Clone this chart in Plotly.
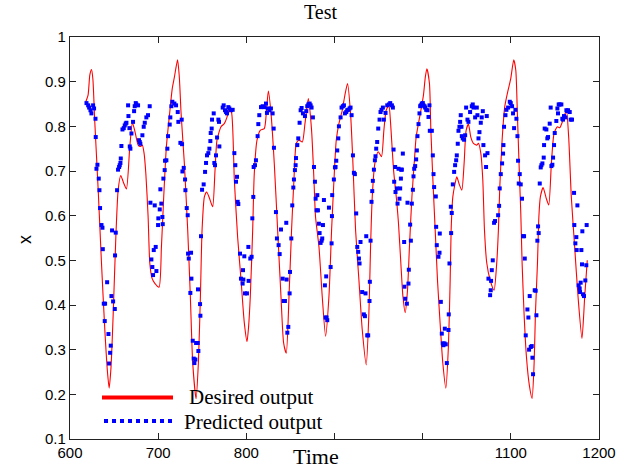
import plotly.graph_objects as go

# Desired output (red curve)
desired_t = [617.9, 620.5, 622.5, 624.4, 626.0, 628.0, 632.0, 635.7, 639.5, 642.5, 644.4, 646.5, 649.0, 652.0,
             654.6, 657.6, 660.5, 664.0, 667.8, 670.8, 673.5, 677.3, 680.0, 682.0, 684.0, 686.0, 688.6, 690.5,
             693.0, 696.0, 701.0, 703.7, 706.3, 709.3, 713.0, 716.0, 718.4, 722.0, 724.0, 726.0, 729.7, 733.5,
             736.5, 739.2, 743.0, 745.6, 747.9, 749.8, 752.4, 755.0, 758.0, 761.8, 764.5, 766.7, 771.3, 775.0,
             778.0, 780.7, 783.3, 786.4, 790.1, 794.0, 797.7, 800.8, 802.5, 804.5, 807.2, 809.0, 812.1, 815.8,
             820.4, 823.0, 825.0, 828.0, 831.7, 835.5, 839.3, 842.3, 845.3, 848.4, 851.3, 854.0, 856.7, 859.7,
             863.5, 866.5, 870.3, 874.0, 876.7, 878.5, 882.4, 886.1, 889.9, 893.7, 896.7, 899.4, 902.0, 905.0,
             908.8, 911.8, 914.8, 918.2, 920.9, 923.9, 927.7, 931.5, 936.0, 939.0, 940.9, 942.8, 945.8, 949.6,
             953.3, 956.0, 958.6, 961.7, 963.5, 967.0, 970.8, 972.6, 975.3, 977.6, 980.2, 982.8, 985.0, 987.8,
             990.4, 992.6, 995.2, 998.0, 1000.9, 1003.0, 1004.8, 1007.7, 1009.3, 1011.6, 1014.2, 1016.8, 1019.8,
             1022.9, 1026.3, 1029.2, 1031.2, 1032.3, 1034.2, 1036.8, 1038.7, 1041.5, 1044.4, 1047.0, 1049.3,
             1051.9, 1054.6, 1057.6, 1061.4, 1063.3, 1066.0, 1068.2, 1070.1, 1072.7, 1076.5, 1081.0, 1084.0,
             1085.9, 1087.5, 1090.1, 1093.1, 1096.9, 1099.9, 1103.3, 1105.6, 1107.4, 1109.3, 1111.3, 1112.8,
             1115.0, 1117.7, 1121.0, 1124.1, 1126.4, 1127.9, 1130.2, 1131.8, 1133.5, 1136.6, 1140.0, 1143.0,
             1146.0, 1149.0, 1152.7, 1155.5, 1159.2, 1163.0, 1165.6, 1168.6, 1172.4, 1176.2, 1180.7, 1183.8,
             1186.7]
desired_x = [0.855, 0.870, 0.915, 0.927, 0.905, 0.814, 0.657, 0.494, 0.344, 0.250, 0.214, 0.260, 0.380, 0.553,
             0.657, 0.690, 0.675, 0.660, 0.754, 0.808, 0.790, 0.758, 0.755, 0.758, 0.740, 0.695, 0.597, 0.494,
             0.460, 0.449, 0.440, 0.530, 0.642, 0.754, 0.829, 0.885, 0.910, 0.949, 0.910, 0.829, 0.717, 0.568,
             0.419, 0.270, 0.190, 0.270, 0.419, 0.568, 0.642, 0.653, 0.640, 0.620, 0.702, 0.769, 0.799, 0.806,
             0.820, 0.840, 0.830, 0.680, 0.553, 0.456, 0.360, 0.318, 0.350, 0.419, 0.568, 0.694, 0.769, 0.791,
             0.795, 0.840, 0.879, 0.829, 0.717, 0.568, 0.419, 0.315, 0.292, 0.419, 0.568, 0.680, 0.762, 0.769,
             0.765, 0.806, 0.862, 0.791, 0.680, 0.597, 0.530, 0.419, 0.330, 0.419, 0.568, 0.680, 0.769, 0.806,
             0.836, 0.870, 0.896, 0.829, 0.717, 0.568, 0.456, 0.344, 0.266, 0.381, 0.530, 0.642, 0.717, 0.743,
             0.732, 0.791, 0.836, 0.847, 0.810, 0.702, 0.627, 0.582, 0.492, 0.419, 0.383, 0.433, 0.530, 0.642,
             0.717, 0.776, 0.806, 0.836, 0.870, 0.910, 0.929, 0.896, 0.791, 0.680, 0.568, 0.456, 0.359,
             0.269, 0.214, 0.307, 0.456, 0.568, 0.642, 0.672, 0.687, 0.670, 0.657, 0.717, 0.791,
             0.805, 0.776, 0.762, 0.758, 0.762, 0.739, 0.680, 0.568, 0.494, 0.456, 0.433, 0.494,
             0.568, 0.665, 0.769, 0.844, 0.881, 0.907, 0.949, 0.926, 0.829, 0.717, 0.605, 0.493,
             0.381, 0.284, 0.220, 0.191, 0.269, 0.381, 0.493, 0.597, 0.642, 0.663, 0.640, 0.624,
             0.717, 0.784, 0.799, 0.797, 0.814, 0.836, 0.776, 0.642, 0.530, 0.419, 0.325, 0.419,
             0.500]

# Predicted output (blue dots)
pred_t = [618.7, 620.6, 621.7, 623.2, 624.3, 626.2, 627.3, 628.9, 629.2, 630.0, 631.1, 632.6, 633.4, 634.1,
          635.7, 636.8, 637.2, 638.3, 639.4, 639.8, 642.1, 643.6, 644.3, 645.5, 646.2, 647.0, 647.7, 648.9,
          650.8, 651.1, 651.9, 653.4, 654.5, 655.7, 656.4, 657.2, 657.6, 658.3, 659.5, 661.0, 662.1, 663.2,
          664.0, 665.9, 666.3, 667.4, 667.8, 668.5, 669.7, 671.5, 672.7, 673.4, 674.6, 675.3, 677.2, 678.3,
          679.1, 679.8, 682.1, 683.6, 684.8, 686.6, 688.5, 690.4, 691.2, 692.3, 693.4, 694.2, 695.0, 696.1,
          697.2, 698.0, 699.9, 700.2, 701.8, 702.5, 703.6, 704.8, 705.2, 705.9, 707.4, 707.8, 709.3, 710.4,
          711.2, 713.1, 713.8, 715.0, 716.1,
          718.4, 720.3, 722.2, 722.9, 725.2, 726.7, 727.1, 727.5, 729.0, 730.5, 730.9, 732.4, 733.5, 733.9,
          734.7, 736.5, 737.3, 737.7, 739.2, 740.3, 741.1, 742.2, 743.0, 744.9, 745.2, 745.6, 747.5, 747.9,
          748.6, 749.8, 751.6, 753.2, 754.3, 755.4, 756.9, 758.1, 759.2, 759.6, 760.7, 761.1, 763.0, 763.7,
          764.5, 765.6, 766.8, 768.3, 769.0, 769.4, 773.2, 774.3, 775.8, 777.0, 778.1, 779.6, 780.7, 782.6,
          784.5, 786.4, 787.5, 788.3, 789.4, 790.2, 790.9, 792.8, 793.9, 795.8, 796.2, 796.6, 797.7, 798.5,
          800.7, 802.3, 802.6, 804.5, 806.0, 806.8, 807.9, 808.3, 809.8, 810.9, 812.8, 813.6, 814.7, 816.6,
          818.5, 820.4, 822.3, 823.4, 824.2, 826.1, 827.9, 829.8, 831.0, 831.3, 833.6, 834.7, 836.6, 837.8,
          839.3, 841.2, 842.3,
          843.8, 845.3, 845.7, 846.5, 847.6, 849.1, 849.5, 851.0, 852.1, 853.3, 854.0, 855.1, 855.9, 856.3,
          857.8, 858.9, 860.4, 861.6, 862.7, 864.2, 866.5, 868.0, 869.1, 870.3, 871.8, 872.9, 874.0, 875.5,
          876.7, 877.8, 878.6, 879.7, 880.5, 881.2, 882.3, 883.1, 884.2, 885.4, 886.1, 886.9, 888.0, 889.1,
          889.9, 890.6, 891.0, 891.8, 893.7, 895.6, 896.7, 897.1, 897.4, 899.3, 900.5, 901.2, 902.0, 903.1,
          904.3, 905.0, 906.9, 908.0, 909.5, 910.7, 911.8, 913.3, 914.4, 915.6, 917.1, 918.2, 919.4, 920.9,
          922.0, 923.1, 924.6, 925.8, 926.9, 927.7, 928.4, 929.5, 931.4, 933.3, 934.5, 935.2, 936.0, 937.1,
          938.2, 939.7, 940.1, 940.9, 942.0, 942.8, 943.5, 944.7, 945.8, 946.5, 947.3, 948.4, 949.6, 951.1,
          952.2, 953.3, 954.9, 956.0, 957.9, 959.8, 961.7,
          963.2, 965.1, 966.2, 967.0, 967.7, 968.8, 969.2, 970.7, 971.5, 972.6, 973.7, 974.5, 975.3, 975.6,
          976.4, 977.5, 979.0, 979.4, 980.2, 982.1, 982.8, 983.9, 984.3, 985.8, 986.6, 987.7, 988.9, 989.6,
          990.4, 991.5, 992.6, 993.4, 994.1, 995.3, 996.4, 997.2, 997.9, 999.0, 1000.2, 1000.9, 1002.1,
          1002.8, 1004.0, 1005.5, 1006.6, 1007.7, 1008.1, 1010.4, 1011.5, 1012.3, 1013.0, 1014.9, 1015.3,
          1016.0, 1017.9, 1019.1, 1019.4, 1020.6, 1021.7, 1022.8, 1023.6, 1024.7, 1025.1, 1026.2, 1027.4,
          1029.3, 1029.6, 1030.4, 1031.9, 1032.3, 1033.0, 1034.2, 1035.7, 1036.8, 1038.0, 1038.7, 1039.8,
          1040.6, 1041.7, 1042.5, 1043.2, 1044.0, 1044.4, 1045.5, 1047.0, 1048.2, 1049.3, 1050.8, 1051.9,
          1053.8, 1055.7, 1056.8, 1057.6, 1059.5, 1061.4, 1062.1, 1063.3, 1064.4, 1065.9, 1067.0, 1068.2,
          1068.9, 1070.8, 1071.9, 1072.7, 1073.5, 1074.6, 1076.5, 1077.2, 1077.6, 1078.4, 1079.5, 1081.0,
          1082.1,
          1085.6, 1086.7, 1087.4, 1088.6, 1090.1, 1091.2, 1091.6, 1092.3, 1093.9, 1095.0, 1096.9, 1098.8,
          1099.9, 1101.4, 1102.5, 1103.7, 1105.2, 1106.3, 1107.5, 1108.2, 1109.0, 1110.1, 1111.2, 1112.7,
          1113.9, 1115.0, 1115.8, 1116.9, 1118.8, 1119.9, 1120.7, 1121.4, 1122.6, 1123.7, 1124.5, 1125.2,
          1127.1, 1128.2, 1129.0, 1130.1, 1130.9, 1131.6, 1132.8, 1133.9, 1134.7, 1135.8, 1137.3, 1137.7,
          1138.4, 1140.3, 1141.4, 1142.2, 1144.1, 1145.2, 1146.0, 1147.1, 1147.9, 1149.0, 1149.8, 1151.6,
          1152.8, 1153.5, 1154.3, 1155.4, 1157.3, 1158.4, 1159.2, 1160.3, 1161.9, 1163.0, 1164.1, 1164.9,
          1166.8, 1167.9, 1169.4, 1171.7, 1172.0, 1173.2, 1174.3, 1174.7, 1175.5, 1176.9, 1178.1, 1178.5,
          1179.2, 1180.0, 1180.7, 1181.1, 1181.9, 1183.0, 1184.5, 1185.6, 1186.0]
pred_x = [0.852, 0.847, 0.842, 0.836, 0.829, 0.847, 0.840, 0.817, 0.776, 0.705, 0.714, 0.683, 0.657, 0.617,
          0.579, 0.573, 0.525, 0.403, 0.364, 0.403, 0.451, 0.335, 0.269, 0.293, 0.309, 0.420, 0.567, 0.408,
          0.391, 0.511, 0.562, 0.657, 0.703, 0.709, 0.713, 0.718, 0.728, 0.756, 0.793, 0.796, 0.802, 0.806,
          0.808, 0.847, 0.823, 0.796, 0.755, 0.750, 0.784, 0.810, 0.834, 0.845, 0.852, 0.849, 0.847, 0.769,
          0.765, 0.761, 0.780, 0.799, 0.808, 0.820, 0.825, 0.845, 0.629, 0.502, 0.485, 0.467, 0.523, 0.623,
          0.530, 0.476, 0.579, 0.594, 0.614, 0.659, 0.627, 0.597, 0.581, 0.683, 0.702, 0.723, 0.724, 0.750,
          0.778, 0.804, 0.820, 0.845, 0.855,
          0.851, 0.847, 0.832, 0.810, 0.763, 0.815, 0.760, 0.699, 0.707, 0.681, 0.657, 0.617, 0.601, 0.515,
          0.504, 0.427, 0.517, 0.459, 0.320, 0.280, 0.270, 0.278, 0.315, 0.315, 0.435, 0.297, 0.402, 0.376,
          0.554, 0.658, 0.670, 0.698, 0.718, 0.735, 0.740, 0.750, 0.767, 0.785, 0.795, 0.815, 0.829, 0.718,
          0.713, 0.735, 0.775, 0.815, 0.810, 0.755, 0.842, 0.847, 0.836, 0.832, 0.829, 0.843, 0.840, 0.836,
          0.837, 0.740, 0.713, 0.676, 0.687, 0.631, 0.626, 0.515, 0.459, 0.448, 0.478, 0.457, 0.509, 0.426,
          0.426, 0.530, 0.454, 0.504, 0.508, 0.594, 0.642, 0.709, 0.713, 0.724, 0.778, 0.805, 0.825, 0.843,
          0.845, 0.843, 0.851, 0.830, 0.840, 0.836, 0.840, 0.829, 0.795, 0.752, 0.608, 0.549, 0.534, 0.514,
          0.569, 0.459, 0.409,
          0.409, 0.584, 0.457, 0.338, 0.351, 0.426, 0.474, 0.549, 0.623, 0.663, 0.681, 0.702, 0.713, 0.729,
          0.758, 0.773, 0.808, 0.836, 0.841, 0.829, 0.823, 0.834, 0.845, 0.849, 0.851, 0.847, 0.842, 0.820,
          0.709, 0.676, 0.638, 0.612, 0.646, 0.612, 0.582, 0.561, 0.539, 0.544, 0.549, 0.579, 0.635, 0.444,
          0.372, 0.464, 0.372, 0.366, 0.618, 0.485, 0.538, 0.599, 0.646, 0.681, 0.708, 0.709, 0.723, 0.746,
          0.773, 0.800, 0.820, 0.842, 0.845, 0.847, 0.829, 0.832, 0.836, 0.837, 0.840, 0.842, 0.825, 0.735,
          0.696, 0.693, 0.605, 0.530, 0.519, 0.504, 0.493, 0.541, 0.429, 0.379, 0.375, 0.426, 0.554, 0.332,
          0.332, 0.409, 0.452, 0.544, 0.631, 0.655, 0.678, 0.703, 0.724, 0.733, 0.750, 0.765, 0.795, 0.815,
          0.832, 0.837, 0.842, 0.815, 0.830, 0.847, 0.849,
          0.852, 0.847, 0.842, 0.748, 0.676, 0.709, 0.653, 0.661, 0.627, 0.705, 0.638, 0.661, 0.683, 0.703,
          0.703, 0.739, 0.541, 0.441, 0.414, 0.403, 0.629, 0.448, 0.479, 0.580, 0.544, 0.627, 0.658, 0.688,
          0.705, 0.711, 0.726, 0.746, 0.778, 0.805, 0.829, 0.845, 0.847, 0.851, 0.852, 0.847, 0.845,
          0.842, 0.837, 0.836, 0.821, 0.847, 0.790, 0.790, 0.735, 0.693, 0.664, 0.643, 0.575,
          0.534, 0.508, 0.517, 0.560, 0.407, 0.336, 0.314, 0.310, 0.314, 0.347, 0.312, 0.270,
          0.344, 0.379, 0.493, 0.620, 0.561, 0.606, 0.670, 0.698, 0.713, 0.724, 0.735, 0.761,
          0.790, 0.799, 0.810, 0.825, 0.799, 0.778, 0.773, 0.770, 0.780, 0.842, 0.815, 0.810,
          0.832, 0.845, 0.849, 0.842, 0.820, 0.842, 0.825, 0.773, 0.787, 0.808, 0.820, 0.834,
          0.758, 0.735, 0.709, 0.823, 0.740, 0.459, 0.422, 0.433, 0.454, 0.478, 0.500, 0.584,
          0.588,
          0.601, 0.622, 0.661, 0.693, 0.717, 0.739, 0.758, 0.799, 0.825, 0.837, 0.842, 0.855,
          0.852, 0.845, 0.829, 0.796, 0.837, 0.817, 0.778, 0.723, 0.672, 0.693, 0.670, 0.638,
          0.554, 0.554, 0.504, 0.332, 0.390, 0.372, 0.300, 0.420, 0.306, 0.308, 0.282, 0.245,
          0.433, 0.432, 0.377, 0.544, 0.576, 0.561, 0.672, 0.708, 0.713, 0.717, 0.730, 0.758,
          0.795, 0.793, 0.773, 0.776, 0.806, 0.842, 0.711, 0.714, 0.730, 0.758, 0.785, 0.812,
          0.840, 0.829, 0.849, 0.849, 0.849, 0.817, 0.815, 0.823, 0.820, 0.836, 0.834, 0.836,
          0.832, 0.815, 0.815, 0.651, 0.579, 0.538, 0.552, 0.523, 0.623, 0.444, 0.437, 0.429,
          0.450, 0.523, 0.491, 0.565, 0.424, 0.420, 0.455, 0.489, 0.579]

x_tickvals = [600, 700, 800, 900, 1000, 1100, 1200]
x_ticktext = ["600", "700", "800", "", "", "1100", "1200"]
y_tickvals = [0.1, 0.2, 0.3, 0.4, 0.5, 0.6, 0.7, 0.8, 0.9, 1.0]
y_ticktext = ["0.1", "0.2", "0.3", "0.4", "0.5", "0.6", "0.7", "0.8", "0.9", "1"]

fig = go.Figure()
fig.add_trace(go.Scatter(x=desired_t, y=desired_x, mode="lines",
                         line=dict(color="#ff0000", width=1.1, shape="spline", smoothing=0.6),
                         showlegend=False, hoverinfo="skip"))
fig.add_trace(go.Scatter(x=pred_t, y=pred_x, mode="markers",
                         marker=dict(symbol="square", size=4, color="#0000ff", line=dict(width=0)),
                         showlegend=False, hoverinfo="skip"))

axis_common = dict(showgrid=False, zeroline=False, showline=True, linecolor="#222222", linewidth=1.3,
                   mirror="ticks", ticks="inside", ticklen=6, tickwidth=1.2, tickcolor="#222222",
                   tickfont=dict(family="Liberation Sans, Arial, sans-serif", size=15, color="#000000"))

fig.update_xaxes(range=[600, 1200], tickvals=x_tickvals, ticktext=x_ticktext, **axis_common)
fig.update_yaxes(range=[0.1, 1.0], tickvals=y_tickvals, ticktext=y_ticktext, **axis_common)

serif = "Liberation Serif, Times New Roman, serif"
fig.update_layout(
    width=641, height=470,
    margin=dict(l=70, r=42, t=37, b=31, autoexpand=False),
    paper_bgcolor="white", plot_bgcolor="white",
    shapes=[
        dict(type="line", xref="paper", yref="paper", x0=0.0605, x1=0.1947, y0=0.1032, y1=0.1032,
             line=dict(color="#ff0000", width=4)),
        dict(type="line", xref="paper", yref="paper", x0=0.0643, x1=0.1928, y0=0.0448, y1=0.0448,
             line=dict(color="#0000ff", width=4, dash="dot")),
    ],
    annotations=[
        dict(text="Desired output", xref="paper", yref="paper", x=0.2212, y=0.1045, xanchor="left",
             yanchor="middle", showarrow=False, font=dict(family=serif, size=21, color="#000000")),
        dict(text="Predicted output", xref="paper", yref="paper", x=0.2117, y=0.0423, xanchor="left",
             yanchor="middle", showarrow=False, font=dict(family=serif, size=21, color="#000000")),
        dict(text="Test", xref="paper", yref="paper", x=0.4726, y=1.0622, xanchor="center",
             yanchor="middle", showarrow=False, font=dict(family=serif, size=20, color="#000000")),
        dict(text="Time", xref="paper", yref="paper", x=0.465, y=-0.0435, xanchor="center",
             yanchor="middle", showarrow=False, borderpad=0,
             font=dict(family=serif, size=22, color="#000000")),
        dict(text="x", xref="paper", yref="paper", x=-0.085, y=0.495, xanchor="center",
             yanchor="middle", showarrow=False, textangle=-90,
             font=dict(family="Liberation Sans, Arial, sans-serif", size=18, color="#000000")),
    ],
)

fig.write_html("out.html")
